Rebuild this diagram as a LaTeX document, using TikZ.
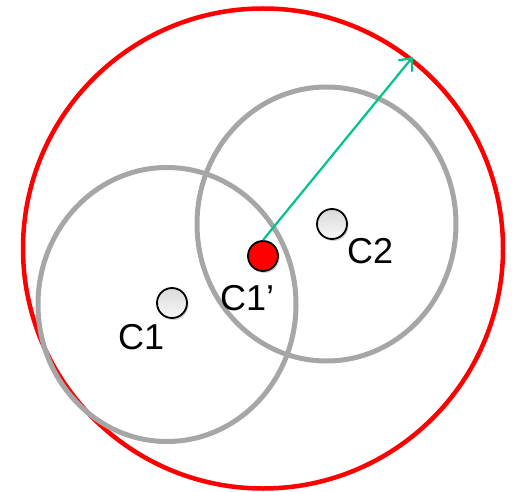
\documentclass[tikz,border=0pt]{standalone}
\usepackage{fontspec}
\setmainfont{Liberation Sans}
\usetikzlibrary{arrows.meta,shadows}
\begin{document}
\begin{tikzpicture}[x=1pt,y=-1pt,
  bigring/.style={draw=red,line width=4.5pt},
  grayring/.style={draw=gray!70,line width=5pt},
  dotc/.style={circle,draw=black,line width=1.8pt,minimum size=30pt,inner sep=0pt,
    drop shadow={shadow xshift=1.5pt,shadow yshift=-2pt,opacity=0.35}},
  graydot/.style={dotc,top color=gray!30,bottom color=gray!5},
  reddot/.style={dotc,fill=red},
  lbl/.style={font=\fontsize{36}{40}\selectfont,inner sep=0pt,anchor=base west},
  radius arrow/.style={draw={rgb,255:red,0;green,196;blue,140},line width=2.2pt,
    -{Straight Barb[length=10pt,width=18pt,line width=2.2pt]}}
]
\useasboundingbox (0,0) rectangle (514,492);
\draw[bigring] (263,248.5) circle [radius=240];
\draw[grayring] (167,304.5) ellipse [x radius=129,y radius=137];
\draw[grayring] (326.5,224) ellipse [x radius=129.5,y radius=137];
\coordinate (tip) at (412.7,57);
\node[graydot] (c1) at (172,303) {};
\node[graydot] (c2) at (332,224) {};
\node[reddot] (c1p) at (263,256) {};
\draw[radius arrow] (c1p.north) -- (tip);
\node[lbl] (l1) at (118,349) {C1};
\node[lbl] (l1p) at (220,310) {C1’};
\node[lbl] (l2) at (347,263) {C2};
\end{tikzpicture}
\end{document}
